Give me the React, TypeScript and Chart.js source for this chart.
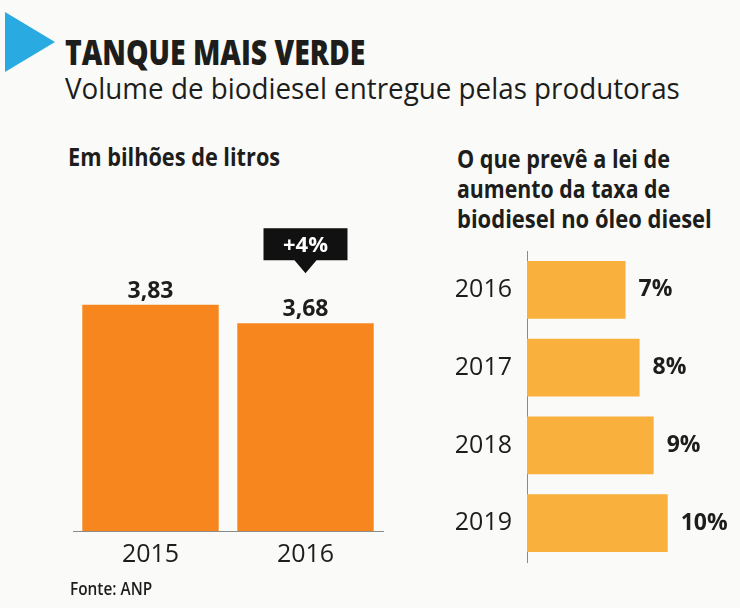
import React, { useEffect, useLayoutEffect, useRef } from "react";
import { Chart, registerables } from "chart.js";

Chart.register(...registerables);

// ---- data ----
const volumeYears = ["2015", "2016"];
const volumeValues = [3.83, 3.68];
const volumeLabels = ["3,83", "3,68"];
const changeLabel = "+4%";

const blendYears = ["2016", "2017", "2018", "2019"];
const blendValues = [7, 8, 9, 10];
const blendLabels = ["7%", "8%", "9%", "10%"];

const FONT = "'Open Sans', 'Noto Sans', sans-serif";
const BG = "#fafaf8";
const TEXT = "#1d1d1b";

type FitProps = {
  text: string;
  x: number;
  baseline: number;
  size: number;
  weight: number;
  width: number;
  color?: string;
};

function FitText({ text, x, baseline, size, weight, width, color }: FitProps) {
  const ref = useRef<HTMLSpanElement>(null);
  useLayoutEffect(() => {
    const el = ref.current;
    if (!el) return;
    const w = el.offsetWidth;
    if (w > 0) el.style.transform = `scaleX(${width / w})`;
  }, [text, width]);
  return (
    <span
      ref={ref}
      style={{
        position: "absolute",
        left: x,
        top: baseline - 0.888 * size,
        fontFamily: FONT,
        fontSize: size,
        fontWeight: weight,
        lineHeight: `${size}px`,
        whiteSpace: "nowrap",
        color: color || TEXT,
        transformOrigin: "left top",
        display: "inline-block",
      }}
    >
      {text}
    </span>
  );
}

function VolumeChart() {
  const ref = useRef<HTMLCanvasElement>(null);
  useEffect(() => {
    const canvas = ref.current;
    if (!canvas) return;
    const labelPlugin = {
      id: "volLabels",
      afterDatasetsDraw(chart: any) {
        const ctx = chart.ctx;
        const meta = chart.getDatasetMeta(0);
        ctx.save();
        ctx.fillStyle = TEXT;
        ctx.font = `700 23px ${FONT}`;
        ctx.textAlign = "center";
        ctx.textBaseline = "alphabetic";
        meta.data.forEach((bar: any, i: number) => {
          ctx.fillText(volumeLabels[i], bar.x, bar.y - 7);
        });
        // change badge above the last bar
        const last = meta.data[meta.data.length - 1];
        const bx = last.x;
        const boxBottom = last.y - 63;
        const boxTop = last.y - 95;
        const halfW = 42;
        ctx.fillStyle = "#111111";
        ctx.beginPath();
        ctx.moveTo(bx - halfW, boxTop);
        ctx.lineTo(bx + halfW, boxTop);
        ctx.lineTo(bx + halfW, boxBottom);
        ctx.lineTo(bx + 11, boxBottom);
        ctx.lineTo(bx, boxBottom + 13);
        ctx.lineTo(bx - 11, boxBottom);
        ctx.lineTo(bx - halfW, boxBottom);
        ctx.closePath();
        ctx.fill();
        ctx.fillStyle = "#ffffff";
        ctx.font = `700 22px ${FONT}`;
        ctx.textBaseline = "middle";
        ctx.fillText(changeLabel, bx, (boxTop + boxBottom) / 2 + 1);
        ctx.restore();
      },
    };
    const chart = new Chart(canvas, {
      type: "bar",
      data: {
        labels: volumeYears,
        datasets: [
          {
            data: volumeValues,
            backgroundColor: "#f7861f",
            barPercentage: 0.88,
            categoryPercentage: 1,
          },
        ],
      },
      options: {
        animation: false,
        responsive: false,
        maintainAspectRatio: false,
        layout: { padding: { left: 33, right: 17, top: 20, bottom: 0 } },
        plugins: { legend: { display: false }, tooltip: { enabled: false } },
        scales: {
          x: {
            grid: { display: false, drawTicks: false },
            border: { display: true, color: "#8a8a8a", width: 1 },
            ticks: { font: { family: FONT, size: 25 }, color: TEXT, padding: 9 },
          },
          y: { display: false, min: 2, max: 4.33 },
        },
      },
      plugins: [labelPlugin],
    });
    return () => chart.destroy();
  }, []);
  return (
    <canvas
      ref={ref}
      width={360}
      height={356}
      style={{ position: "absolute", left: 40, top: 223, width: 360, height: 356 }}
    />
  );
}

function BlendChart() {
  const ref = useRef<HTMLCanvasElement>(null);
  useEffect(() => {
    const canvas = ref.current;
    if (!canvas) return;
    const labelPlugin = {
      id: "blendLabels",
      afterDatasetsDraw(chart: any) {
        const ctx = chart.ctx;
        const meta = chart.getDatasetMeta(0);
        ctx.save();
        ctx.fillStyle = TEXT;
        ctx.font = `700 23px ${FONT}`;
        ctx.textAlign = "left";
        ctx.textBaseline = "middle";
        meta.data.forEach((bar: any, i: number) => {
          ctx.fillText(blendLabels[i], bar.x + 13, bar.y);
        });
        ctx.restore();
      },
    };
    const chart = new Chart(canvas, {
      type: "bar",
      data: {
        labels: blendYears,
        datasets: [
          {
            data: blendValues,
            backgroundColor: "#f9b03c",
            barPercentage: 0.744,
            categoryPercentage: 1,
          },
        ],
      },
      options: {
        indexAxis: "y",
        animation: false,
        responsive: false,
        maintainAspectRatio: false,
        layout: { padding: { left: 0, right: 16, top: 0, bottom: 0 } },
        plugins: { legend: { display: false }, tooltip: { enabled: false } },
        scales: {
          x: { display: false, min: 0, max: 14 },
          y: {
            grid: { display: false, drawTicks: false },
            border: { display: true, color: "#8a8a8a", width: 1 },
            ticks: { font: { family: FONT, size: 25 }, color: TEXT, padding: 15 },
            afterFit: (scale: any) => {
              scale.width = 87;
            },
          },
        },
      },
      plugins: [labelPlugin],
    });
    return () => chart.destroy();
  }, []);
  return (
    <canvas
      ref={ref}
      width={300}
      height={371}
      style={{ position: "absolute", left: 440, top: 221, width: 300, height: 371 }}
    />
  );
}

export default function App() {
  return (
    <div
      style={{
        position: "absolute",
        left: 0,
        top: 0,
        width: 740,
        height: 608,
        background: BG,
        overflow: "hidden",
      }}
    >
      <svg width={60} height={80} style={{ position: "absolute", left: 0, top: 0 }}>
        <polygon points="5,12 5,72 55,42" fill="#29abe2" />
      </svg>
      <FitText text="TANQUE MAIS VERDE" x={65} baseline={66} size={36} weight={800} width={300} />
      <FitText
        text="Volume de biodiesel entregue pelas produtoras"
        x={65}
        baseline={100}
        size={30}
        weight={400}
        width={615}
      />
      <FitText text="Em bilhões de litros" x={68} baseline={166} size={25} weight={700} width={212} />
      <FitText text="O que prevê a lei de" x={457} baseline={168} size={25} weight={700} width={213} />
      <FitText text="aumento da taxa de" x={457} baseline={198} size={25} weight={700} width={213} />
      <FitText text="biodiesel no óleo diesel" x={457} baseline={228} size={25} weight={700} width={255} />
      <VolumeChart />
      <BlendChart />
      <FitText text="Fonte: ANP" x={70} baseline={595} size={18} weight={600} width={82} />
    </div>
  );
}
